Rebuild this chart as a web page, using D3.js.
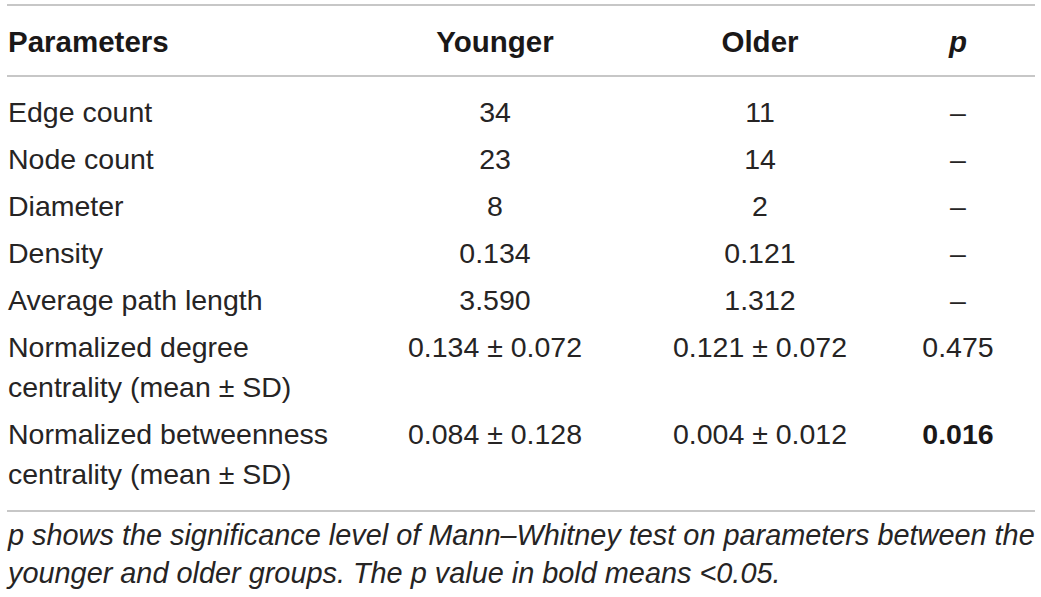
<!DOCTYPE html>
<html>
<head>
<meta charset="utf-8">
<script src="https://d3js.org/d3.v7.min.js"></script>
<style>
  body { margin: 0; background: #fff; }
  text { font-family: "Liberation Sans", Arial, Helvetica, sans-serif; }
</style>
</head>
<body>
<svg id="tbl" width="1041" height="597"></svg>
<script>
// table contents
var headers = ['Parameters', 'Younger', 'Older', 'p'];
var params = [
  ['Edge count'],
  ['Node count'],
  ['Diameter'],
  ['Density'],
  ['Average path length'],
  ['Normalized degree', 'centrality (mean \u00b1 SD)'],
  ['Normalized betweenness', 'centrality (mean \u00b1 SD)']
];
var younger = ['34', '23', '8', '0.134', '3.590', '0.134 \u00b1 0.072', '0.084 \u00b1 0.128'];
var older = ['11', '14', '2', '0.121', '1.312', '0.121 \u00b1 0.072', '0.004 \u00b1 0.012'];
var pvals = ['\u2013', '\u2013', '\u2013', '\u2013', '\u2013', '0.475', '0.016'];
var pBold = [false, false, false, false, false, false, true];
var caption = [
  'p shows the significance level of Mann\u2013Whitney test on parameters between the',
  'younger and older groups. The p value in bold means <0.05.'
];

var svg = d3.select('#tbl');
var ink = '#262424';
var rule = '#b4b4b4';
var fs = 28.5;
var headFs = 29.5;

// column centres (first column left aligned)
var colX = d3.scaleOrdinal().domain(headers).range([8, 495, 760, 958]);
var colAnchor = d3.scaleOrdinal().domain(headers).range(['start', 'middle', 'middle', 'middle']);

// rows: single line rows step 47, second line inside a row step 40
var rowStep = 47, lineStep = 40;
var rowBase = [];
var acc = 122;
params.forEach(function(p) {
  rowBase.push(acc);
  acc += rowStep + (p.length - 1) * lineStep;
});

// horizontal rules
var ruleY = [5, 76, 511];
svg.selectAll('line.rule')
  .data(ruleY)
  .enter()
  .append('line')
    .attr('class', 'rule')
    .attr('x1', 7)
    .attr('x2', 1035)
    .attr('y1', function(d) { return d; })
    .attr('y2', function(d) { return d; })
    .style('stroke', rule)
    .style('stroke-width', 1.6);

// header
svg.selectAll('text.head')
  .data(headers)
  .enter()
  .append('text')
    .attr('class', 'head')
    .attr('x', function(d) { return colX(d); })
    .attr('y', 52)
    .attr('text-anchor', function(d) { return colAnchor(d); })
    .style('font-size', headFs + 'px')
    .style('font-weight', 'bold')
    .style('font-style', function(d) { return d === 'p' ? 'italic' : 'normal'; })
    .style('fill', '#1a1818')
    .text(function(d) { return d; });

// body rows
var body = svg.append('g').attr('id', 'body');
params.forEach(function(lines, i) {
  var t = body.append('text')
    .attr('x', colX('Parameters'))
    .attr('y', rowBase[i])
    .style('font-size', fs + 'px')
    .style('fill', ink);
  lines.forEach(function(l, j) {
    t.append('tspan')
      .attr('x', colX('Parameters'))
      .attr('y', rowBase[i] + j * lineStep)
      .text(l);
  });

  [['Younger', younger[i]], ['Older', older[i]], ['p', pvals[i]]].forEach(function(c) {
    var bold = c[0] === 'p' && pBold[i];
    body.append('text')
      .attr('x', colX(c[0]))
      .attr('y', rowBase[i])
      .attr('text-anchor', 'middle')
      .style('font-size', fs + 'px')
      .style('font-weight', bold ? 'bold' : 'normal')
      .style('fill', bold ? '#1a1818' : ink)
      .text(c[1]);
  });
});

// caption, italic, first line stretched across the table width
var capY = [545, 583];
var cap = svg.selectAll('text.cap')
  .data(caption)
  .enter()
  .append('text')
    .attr('class', 'cap')
    .attr('x', 8)
    .attr('y', function(d, i) { return capY[i]; })
    .style('font-size', fs + 'px')
    .style('font-style', 'italic')
    .style('fill', ink)
    .text(function(d) { return d; });

var w0 = cap.node().getComputedTextLength();
var capFs = fs * 1027 / w0;
cap.style('font-size', capFs + 'px');
</script>
</body>
</html>
